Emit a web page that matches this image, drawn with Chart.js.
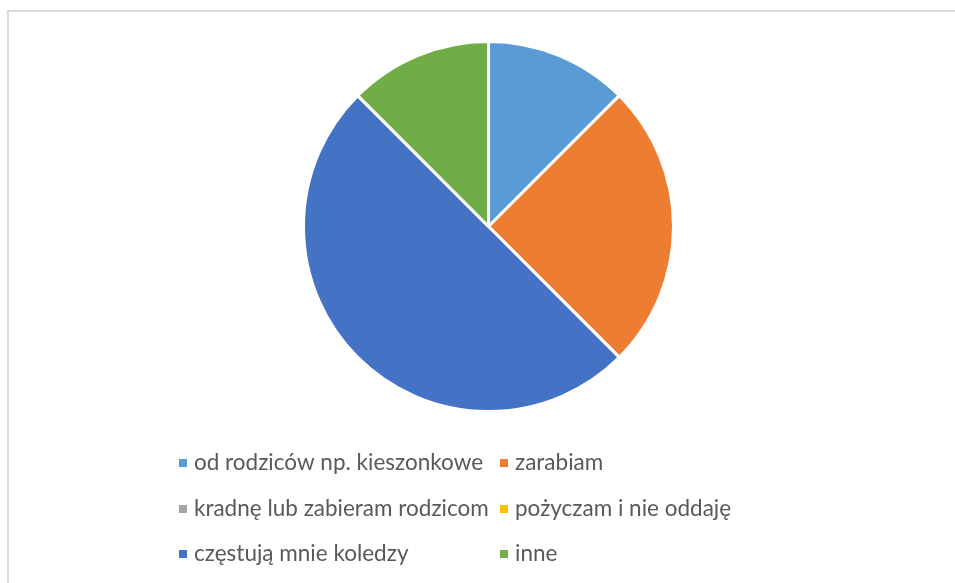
<!DOCTYPE html>
<html>
<head>
<meta charset="utf-8">
<script src="https://cdn.jsdelivr.net/npm/chart.js@4"></script>
<style>
  html, body { margin: 0; padding: 0; background: #fff; }
  .frame {
    position: absolute; left: 7px; top: 10px; width: 960px; height: 600px;
    border-left: 2px solid #d9d9d9; border-top: 2px solid #d9d9d9;
  }
  .chart-container { position: absolute; left: 0; top: 0; width: 955px; height: 583px; }
</style>
</head>
<body>
<div class="frame"></div>
<div class="chart-container">
  <canvas id="chart"></canvas>
</div>
<script>
const LABELS = [
  "od rodziców np. kieszonkowe",
  "zarabiam",
  "kradnę lub zabieram rodzicom",
  "pożyczam i nie oddaję",
  "częstują mnie koledzy",
  "inne",
];
const VALUES = [1, 2, 0, 0, 4, 1];
const COLORS = ["#5b9bd5", "#ed7d31", "#a5a5a5", "#ffc000", "#4472c4", "#70ad47"];

// legend laid out in two columns, like the office chart
const gridLegend = {
  id: "gridLegend",
  afterDraw(chart) {
    const ctx = chart.ctx;
    const cols = [179, 500];
    const rows = [463, 509, 554];
    ctx.save();
    ctx.font = "22.5px Lato";
    ctx.textBaseline = "middle";
    chart.data.labels.forEach((label, i) => {
      const x = cols[i % 2];
      const y = rows[Math.floor(i / 2)];
      ctx.fillStyle = chart.data.datasets[0].backgroundColor[i];
      ctx.fillRect(x, y - 4, 8, 8);
      ctx.fillStyle = "#595959";
      ctx.fillText(label, x + 15, y);
    });
    ctx.restore();
  },
};

const ctx = document.getElementById("chart").getContext("2d");
new Chart(ctx, {
  type: "pie",
  data: {
    labels: LABELS,
    datasets: [
      {
        data: VALUES,
        backgroundColor: COLORS,
        borderColor: "#ffffff",
        borderWidth: 3,
      },
    ],
  },
  options: {
    responsive: true,
    maintainAspectRatio: false,
    animation: false,
    radius: 185,
    layout: {
      padding: { left: 22, right: 0, top: 40, bottom: 170 },
    },
    plugins: {
      legend: { display: false },
      tooltip: { enabled: false },
    },
  },
  plugins: [gridLegend],
});
</script>
</body>
</html>
